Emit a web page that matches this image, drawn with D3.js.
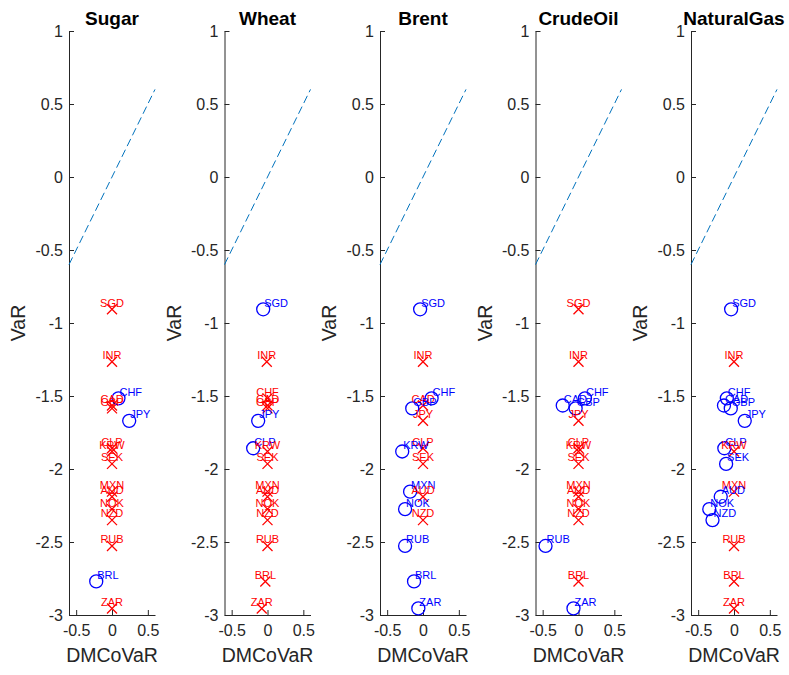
<!DOCTYPE html>
<html>
<head>
<meta charset="utf-8">
<script src="https://cdn.jsdelivr.net/npm/d3@7"></script>
<style>
  html, body { margin: 0; padding: 0; background: #fff; }
  svg { display: block; font-family: "Liberation Sans", Arial, Helvetica, sans-serif; }
</style>
</head>
<body>
<svg id="chart" width="789" height="675"></svg>
<script>
// Currencies and their VaR (shared by every panel)
const currencies = ["SGD","INR","CHF","CAD","GBP","JPY","CLP","KRW","SEK","MXN","AUD","NOK","NZD","RUB","BRL","ZAR"];
const varValues  = [-0.906,-1.265,-1.516,-1.565,-1.585,-1.67,-1.858,-1.88,-1.965,-2.155,-2.19,-2.275,-2.35,-2.527,-2.77,-2.955];

// Commodity panels
const commodities = ["Sugar","Wheat","Brent","CrudeOil","NaturalGas"];

// DMCoVaR per commodity (same currency order as above)
const sugarDM   = [0, 0, 0.09, 0, 0, 0.24, 0, 0, 0, 0, 0, 0, 0, 0, -0.22, 0];
const wheatDM   = [-0.06, -0.01, 0, 0, 0, -0.13, -0.2, 0, 0, 0, 0, 0, 0, 0, -0.03, -0.08];
const brentDM   = [-0.04, 0, 0.12, 0, -0.15, 0, 0, -0.29, 0, -0.18, 0, -0.25, 0, -0.25, -0.125, -0.065];
const crudeDM   = [0, 0, 0.09, -0.22, -0.04, 0, 0, 0, 0, 0, 0, 0, 0, -0.46, 0, -0.07];
const natgasDM  = [-0.04, 0, -0.1, -0.14, -0.045, 0.15, -0.135, 0, -0.11, 0, -0.185, -0.345, -0.3, 0, 0, 0];

// Significance flags (1 = significant, drawn as a blue circle; 0 = red cross)
const sugarSig  = [0,0,1,0,0,1,0,0,0,0,0,0,0,0,1,0];
const wheatSig  = [1,0,0,0,0,1,1,0,0,0,0,0,0,0,0,0];
const brentSig  = [1,0,1,0,1,0,0,1,0,1,0,1,0,1,1,1];
const crudeSig  = [0,0,1,1,1,0,0,0,0,0,0,0,0,1,0,1];
const natgasSig = [1,0,1,1,1,1,1,0,1,0,1,1,1,0,0,0];

const dmSeries  = [sugarDM, wheatDM, brentDM, crudeDM, natgasDM];
const sigSeries = [sugarSig, wheatSig, brentSig, crudeSig, natgasSig];

// Axis limits, ticks and the 45-degree reference line
const xLimits = [-0.6, 0.6];
const yLimits = [-3, 1];
const xTickValues = [-0.5, 0, 0.5];
const yTickValues = [-3, -2.5, -2, -1.5, -1, -0.5, 0, 0.5, 1];
const refLine = [-0.6, 0.6];

// Layout
const plotTop = 31, plotBottom = 615, plotWidth = 86;
const firstLeft = 69, panelStep = 155.5;
const axisColor = "#262626";
const lineBlue = "#0072BD";

const svg = d3.select("#chart");
const fmt = d => String(d);

commodities.forEach((name, i) => {
  const left = firstLeft + i * panelStep;
  const x = d3.scaleLinear().domain(xLimits).range([left, left + plotWidth]);
  const y = d3.scaleLinear().domain(yLimits).range([plotBottom, plotTop]);
  const g = svg.append("g");

  // axes (box off, ticks pointing inward)
  const yAxis = d3.axisLeft(y).tickValues(yTickValues).tickFormat(fmt)
    .tickSizeInner(-5).tickSizeOuter(0).tickPadding(6);
  const xAxis = d3.axisBottom(x).tickValues(xTickValues).tickFormat(fmt)
    .tickSizeInner(-5).tickSizeOuter(0).tickPadding(10);

  const gy = g.append("g").attr("transform", `translate(${left},0)`).call(yAxis);
  const gx = g.append("g").attr("transform", `translate(0,${plotBottom})`).call(xAxis);
  [gx, gy].forEach(a => {
    a.selectAll("path, line").attr("stroke", axisColor).attr("stroke-width", 1);
    a.selectAll("text").attr("fill", axisColor).style("font-size", "16px")
      .style("font-family", "'Liberation Sans', Arial, sans-serif");
  });

  // 45-degree dashed reference line
  g.append("line")
    .attr("x1", x(refLine[0])).attr("y1", y(refLine[0]))
    .attr("x2", x(refLine[1])).attr("y2", y(refLine[1]))
    .attr("stroke", lineBlue).attr("stroke-width", 1)
    .attr("stroke-dasharray", "8,4");

  const pts = currencies.map((c, k) => ({
    name: c, v: varValues[k], dm: dmSeries[i][k], sig: sigSeries[i][k]
  }));

  // insignificant: red crosses
  const s = 5;
  g.selectAll(".cross").data(pts.filter(p => !p.sig)).enter().append("path")
    .attr("d", p => {
      const cx = x(p.dm), cy = y(p.v);
      return `M${cx - s},${cy - s}L${cx + s},${cy + s}M${cx - s},${cy + s}L${cx + s},${cy - s}`;
    })
    .attr("stroke", "#FF0000").attr("stroke-width", 1.3).attr("fill", "none");

  // significant: blue circles
  g.selectAll(".circ").data(pts.filter(p => p.sig)).enter().append("circle")
    .attr("cx", p => x(p.dm)).attr("cy", p => y(p.v)).attr("r", 6.5)
    .attr("fill", "none").attr("stroke", "#0000FF").attr("stroke-width", 1.3);

  // currency labels
  g.selectAll(".lab").data(pts).enter().append("text")
    .attr("x", p => p.sig ? x(p.dm) + 1 : x(p.dm))
    .attr("y", p => y(p.v) - 6.5)
    .attr("dy", "0.35em")
    .attr("text-anchor", p => p.sig ? "start" : "middle")
    .attr("fill", p => p.sig ? "#0000FF" : "#FF0000")
    .style("font-size", "11px")
    .text(p => p.name);

  // title
  g.append("text")
    .attr("x", left + plotWidth / 2).attr("y", 25)
    .attr("text-anchor", "middle")
    .style("font-size", "19px").style("font-weight", "bold").attr("fill", "#000")
    .text(name);

  // axis labels
  g.append("text")
    .attr("x", left + plotWidth / 2).attr("y", 662)
    .attr("text-anchor", "middle").attr("fill", axisColor)
    .style("font-size", "19.5px")
    .text("DMCoVaR");

  g.append("text")
    .attr("transform", `translate(${left - 44},${(plotTop + plotBottom) / 2}) rotate(-90)`)
    .attr("text-anchor", "middle").attr("fill", axisColor)
    .style("font-size", "19.5px")
    .text("VaR");
});
</script>
</body>
</html>
